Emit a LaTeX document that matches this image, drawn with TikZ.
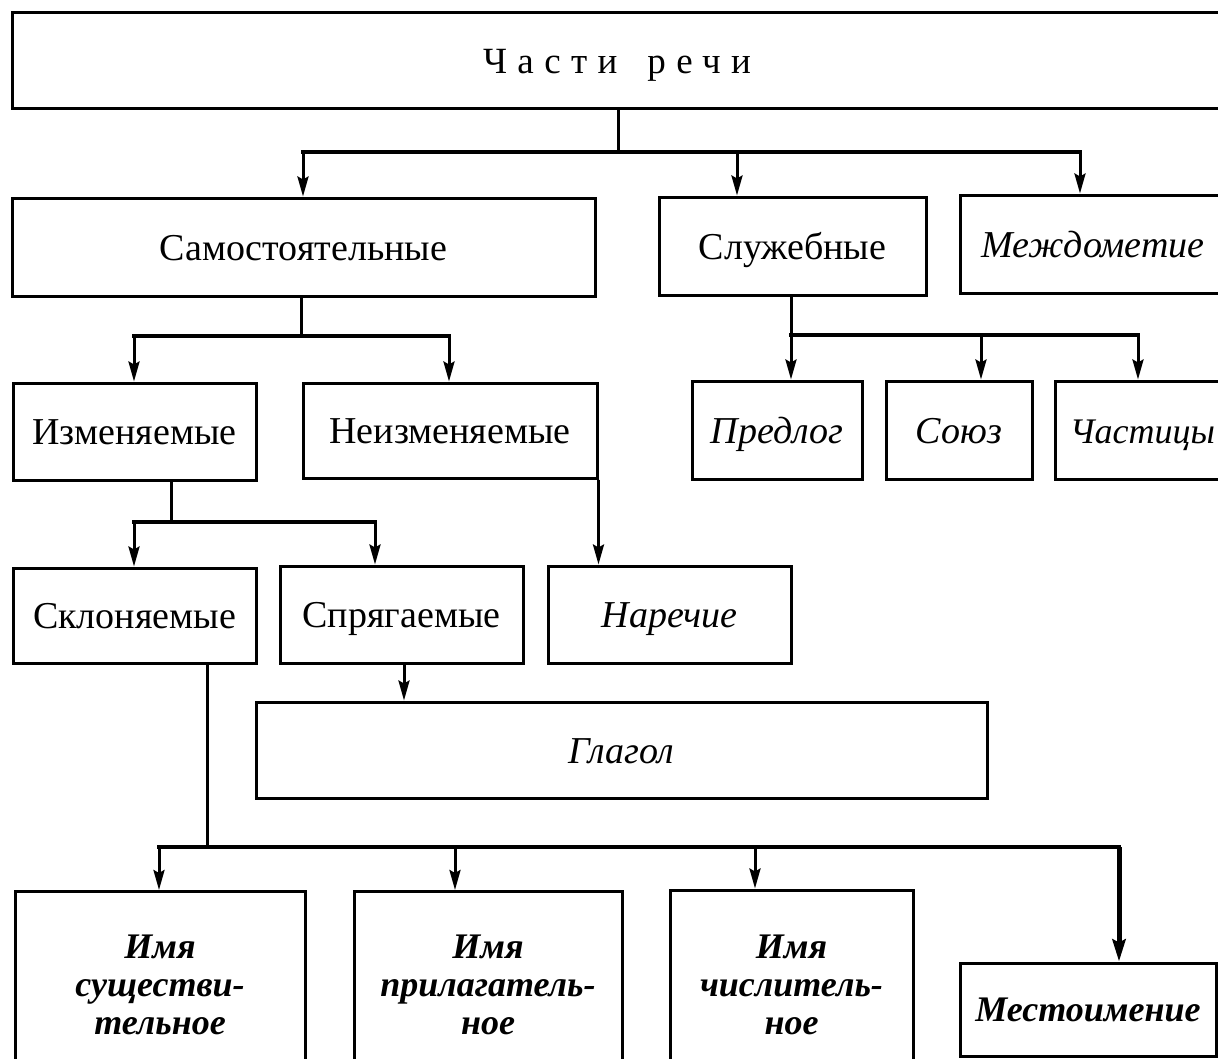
\documentclass[tikz,border=0pt]{standalone}
\usepackage{fontspec}
\setmainfont{Liberation Serif}
\usetikzlibrary{arrows.meta}
\begin{document}
\begin{tikzpicture}[x=1pt,y=-1pt,
  frame/.style={draw, line width=3pt, rectangle, inner sep=0pt, align=center},
  box/.style={frame, font=\fontsize{38}{42}\selectfont, text height=31pt, text depth=5pt},
  itbox/.style={frame, font=\fontsize{38}{42}\selectfont\itshape, text height=31pt, text depth=5pt},
  bibox/.style={frame, font=\fontsize{36}{38}\selectfont\bfseries\itshape},
  conn/.style={line width=3pt},
  bus/.style={line width=4.5pt, line cap=rect},
  arr/.style={line width=3pt, -{Stealth[length=20pt,width=11pt,inset=3pt]}},
  arrthick/.style={line width=5pt, -{Stealth[length=22pt,width=13pt,inset=3pt]}}]
\clip (0,0) rectangle (1218,1058);
\fill[white] (0,0) rectangle (1218,1058);
% boxes
\node[frame, font=\fontsize{37}{40}\selectfont, text height=31pt, text depth=5pt,
  minimum width=1210pt, minimum height=96pt] (top) at (617,60)
  {\addfontfeatures{LetterSpace=28}Части\hspace{30pt}речи};
\node[box, minimum width=583pt, minimum height=98pt] (sam) at (303.5,247) {Самостоятельные};
\node[box, minimum width=267pt, minimum height=98pt] (sluzh) at (792.5,246) {Служебные};
\node[itbox, minimum width=266pt, minimum height=98pt] (mezh) at (1093,244) {Междометие};
\node[box, minimum width=243pt, minimum height=97pt] (izm) at (134.5,431.5) {Изменяемые};
\node[box, minimum width=294pt, minimum height=95pt] (neizm) at (450,430.5) {Неизменяемые};
\node[itbox, minimum width=170pt, minimum height=98pt] (predl) at (777,430) {Предлог};
\node[itbox, minimum width=146pt, minimum height=98pt] (soyuz) at (959,430) {Союз};
\node[itbox, font=\fontsize{36}{40}\selectfont\itshape, minimum width=175pt, minimum height=98pt] (chast) at (1142.5,430) {Частицы};
\node[box, minimum width=243pt, minimum height=95pt] (skl) at (134.5,615.5) {Склоняемые};
\node[box, minimum width=243pt, minimum height=97pt] (spr) at (401.5,614.5) {Спрягаемые};
\node[itbox, minimum width=243pt, minimum height=97pt] (nar) at (669.5,614.5) {Наречие};
\node[itbox, minimum width=731pt, minimum height=96pt] (glag) at (621.5,750) {Глагол};
\node[bibox, minimum width=290pt, minimum height=187pt] (sush) at (160,985) {Имя\\существи-\\тельное};
\node[bibox, minimum width=268pt, minimum height=187pt] (pril) at (488,985) {Имя\\прилагатель-\\ное};
\node[bibox, minimum width=243pt, minimum height=190pt] (chisl) at (791.5,985) {Имя\\числитель-\\ное};
\node[bibox, minimum width=256pt, minimum height=93pt] (mest) at (1088,1009.5) {Местоимение};
% level 1
\coordinate (t0) at (618,152);
\coordinate (t1) at (303,152);
\coordinate (t2) at (737,152);
\coordinate (t3) at (1080,152);
\draw[conn] (t0 |- top.south) -- (t0);
\draw[bus] (t1) -- (t3);
\draw[arr] (t1) -- (t1 |- sam.north);
\draw[arr] (t2) -- (t2 |- sluzh.north);
\draw[arr] (t3) -- (t3 |- mezh.north);
% samostoyatelnye
\coordinate (s0) at (301,336);
\coordinate (s1) at (134,336);
\coordinate (s2) at (449,336);
\draw[conn] (s0 |- sam.south) -- (s0);
\draw[bus] (s1) -- (s2);
\draw[arr] (s1) -- (s1 |- izm.north);
\draw[arr] (s2) -- (s2 |- neizm.north);
% sluzhebnye
\coordinate (c0) at (791,335);
\coordinate (c2) at (981,335);
\coordinate (c3) at (1138,335);
\draw[conn] (c0 |- sluzh.south) -- (c0);
\draw[bus] (c0) -- (c3);
\draw[arr] (c0) -- (c0 |- predl.north);
\draw[arr] (c2) -- (c2 |- soyuz.north);
\draw[arr] (c3) -- (c3 |- chast.north);
% izmenyaemye
\coordinate (i0) at (171,522);
\coordinate (i1) at (134,522);
\coordinate (i2) at (375,522);
\draw[conn] (i0 |- izm.south) -- (i0);
\draw[bus] (i1) -- (i2);
\draw[arr] (i1) -- (i1 |- skl.north);
\draw[arr] (i2) -- (i2 |- spr.north);
% neizmenyaemye -> narechie
\draw[arr] (neizm.south east) -- (neizm.south east |- nar.north);
% spryagaemye -> glagol
\coordinate (g0) at (404,0);
\draw[arr] (g0 |- spr.south) -- (g0 |- glag.north);
% sklonyaemye -> names
\coordinate (k0) at (207,847);
\coordinate (k1) at (159,847);
\coordinate (k2) at (455,847);
\coordinate (k3) at (755,847);
\coordinate (k4) at (1119,847);
\draw[conn] (k0 |- skl.south) -- (k0);
\draw[bus] (k1) -- (k4);
\draw[arr] (k1) -- (k1 |- sush.north);
\draw[arr] (k2) -- (k2 |- pril.north);
\draw[arr] (k3) -- (k3 |- chisl.north);
\draw[arrthick] (k4) -- (k4 |- mest.north);
\end{tikzpicture}
\end{document}
